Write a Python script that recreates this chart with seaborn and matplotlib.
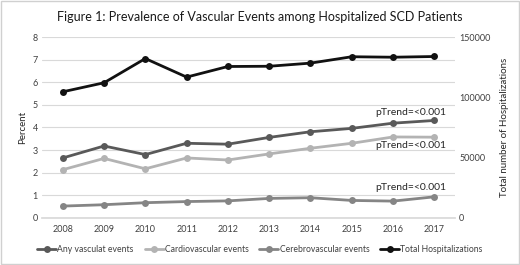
import matplotlib
matplotlib.use("Agg")
import matplotlib.pyplot as plt
import seaborn as sns
import pandas as pd
from matplotlib.lines import Line2D

years = ["2008", "2009", "2010", "2011", "2012", "2013", "2014", "2015", "2016", "2017"]
any_vascular = [2.65, 3.18, 2.80, 3.30, 3.26, 3.56, 3.81, 3.96, 4.19, 4.31]
cardiovascular = [2.13, 2.63, 2.17, 2.65, 2.56, 2.83, 3.08, 3.30, 3.58, 3.57]
cerebrovascular = [0.52, 0.58, 0.67, 0.72, 0.75, 0.86, 0.89, 0.77, 0.74, 0.93]
total_hosp = [104600, 112100, 132200, 116800, 125600, 125800, 128400, 133700, 133300, 133900]
left_ticks = [0, 1, 2, 3, 4, 5, 6, 7, 8]
right_ticks = [0, 50000, 100000, 150000]
names = ["Any vasculat events", "Cardiovascular events", "Cerebrovascular events", "Total Hospitalizations"]
colors = ["#595959", "#b3b3b3", "#858585", "#111111"]

sns.set_theme(style="white")
plt.rcParams['font.family'] = ['Lato', 'DejaVu Sans']

fig = plt.figure(figsize=(5.2, 2.65), dpi=100)
ax = fig.add_axes([0.081, 0.178, 0.794, 0.682])
ax2 = ax.twinx()

idx = list(range(len(years)))
for vals, c in zip([any_vascular, cardiovascular, cerebrovascular], colors[:3]):
    df = pd.DataFrame({"x": idx, "y": vals})
    sns.lineplot(data=df, x="x", y="y", ax=ax, color=c, lw=2, marker="o",
                 markersize=5, markeredgewidth=0, legend=False)
df = pd.DataFrame({"x": idx, "y": total_hosp})
sns.lineplot(data=df, x="x", y="y", ax=ax2, color=colors[3], lw=2, marker="o",
             markersize=5, markeredgewidth=0, legend=False)

ax.set_ylim(0, 8)
ax2.set_ylim(0, 150000)
ax.set_xlim(-0.5, 9.5)
ax.set_yticks(left_ticks)
ax2.set_yticks(right_ticks)
ax.set_xticks(idx)
ax.set_xticklabels(years)
ax.grid(axis="y", color="#d9d9d9", lw=0.8)
ax.set_axisbelow(True)
for a in (ax, ax2):
    for s in a.spines.values():
        s.set_visible(False)
    a.tick_params(length=0, labelsize=6.5, colors="#404040", pad=3)
ax.tick_params(axis="x", pad=5)
ax.spines["bottom"].set_visible(True)
ax.spines["bottom"].set_color("#d9d9d9")
ax.set_xlabel("")
ax.set_ylabel("Percent", fontsize=7, color="#262626", labelpad=4)
ax2.set_ylabel("Total number of Hospitalizations", fontsize=7, color="#262626", labelpad=7)

for yv in (4.68, 3.22, 1.36):
    ax.text(9.3, yv, "pTrend=<0.001", ha="right", va="center", fontsize=7.5, color="#262626")

fig.text(0.5, 0.935, "Figure 1: Prevalence of Vascular Events among Hospitalized SCD Patients",
         ha="center", va="center", fontsize=9.0, color="#1a1a1a")

handles = [Line2D([0], [0], color=c, lw=2, marker="o", markersize=5, markeredgewidth=0) for c in colors]
fig.legend(handles, names, loc="center", bbox_to_anchor=(0.5, 0.057), ncol=4, frameon=False,
           fontsize=6.2, handlelength=2.2, handletextpad=0.15, columnspacing=1.25,
           labelcolor="#404040")

fig.patches.append(plt.Rectangle((0.002, 0.004), 0.996, 0.992, transform=fig.transFigure,
                                 fill=False, edgecolor="#d0d0d0", lw=1))
fig.savefig("out.png", dpi=100)
